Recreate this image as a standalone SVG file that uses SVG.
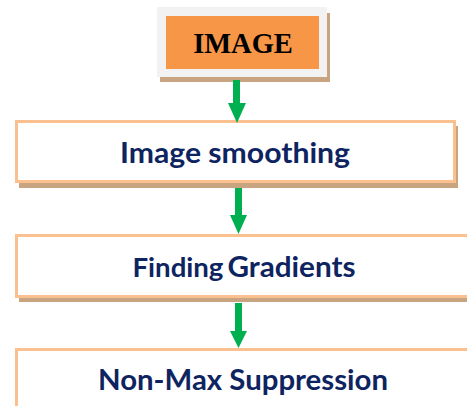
<svg xmlns="http://www.w3.org/2000/svg" width="467" height="406" viewBox="0 0 467 406">
  <defs>
    <style>
      .shadow { fill: #c9a481; }
      .box { fill: #ffffff; stroke: #fac090; stroke-width: 3; }
      .label { font-family: "Lato", "Open Sans", sans-serif; font-weight: bold; fill: #0e2461; text-anchor: middle; }
      .arrow { fill: #00b050; }
    </style>
  </defs>
  <rect width="467" height="406" fill="#ffffff"/>

  <!-- start node -->
  <g id="node-image">
    <rect class="shadow" x="160" y="13" width="170" height="69"/>
    <rect x="157" y="7" width="170" height="70" fill="#f2f2f2"/>
    <rect x="166" y="16" width="153" height="53" fill="#f79646"/>
    <text x="243" y="53" font-family="Liberation Serif, serif" font-weight="bold" font-size="28.5" fill="#000000" text-anchor="middle">IMAGE</text>
  </g>

  <g id="node-smoothing">
    <rect class="shadow" x="19" y="126" width="439" height="62"/>
    <rect class="box" x="16.5" y="121.5" width="438" height="60"/>
    <text class="label" x="235" y="163" font-size="28.5" textLength="230" lengthAdjust="spacingAndGlyphs">Image smoothing</text>
  </g>

  <g id="node-gradients">
    <rect class="shadow" x="19" y="240" width="460" height="62"/>
    <rect class="box" x="16.5" y="235.5" width="460" height="61"/>
    <text class="label" x="244" y="277" textLength="223" lengthAdjust="spacingAndGlyphs"><tspan font-size="26.5">Finding</tspan> <tspan font-size="28.5">Gradients</tspan></text>
  </g>

  <g id="node-nms">
    <rect class="box" x="16.5" y="349.5" width="460" height="70"/>
    <text class="label" x="243" y="390" font-size="28" textLength="290" lengthAdjust="spacingAndGlyphs">Non-Max Suppression</text>
  </g>

  <!-- connectors -->
  <g id="connectors">
    <path class="arrow" d="M233 80 H240 V103 H246 L237 123 L228 103 H233 Z"/>
    <path class="arrow" d="M235 188 H242 V215 H247 L238.5 234 L230 215 H235 Z"/>
    <path class="arrow" d="M235 303 H242 V331 H247 L238.5 348 L230 331 H235 Z"/>
  </g>
</svg>
